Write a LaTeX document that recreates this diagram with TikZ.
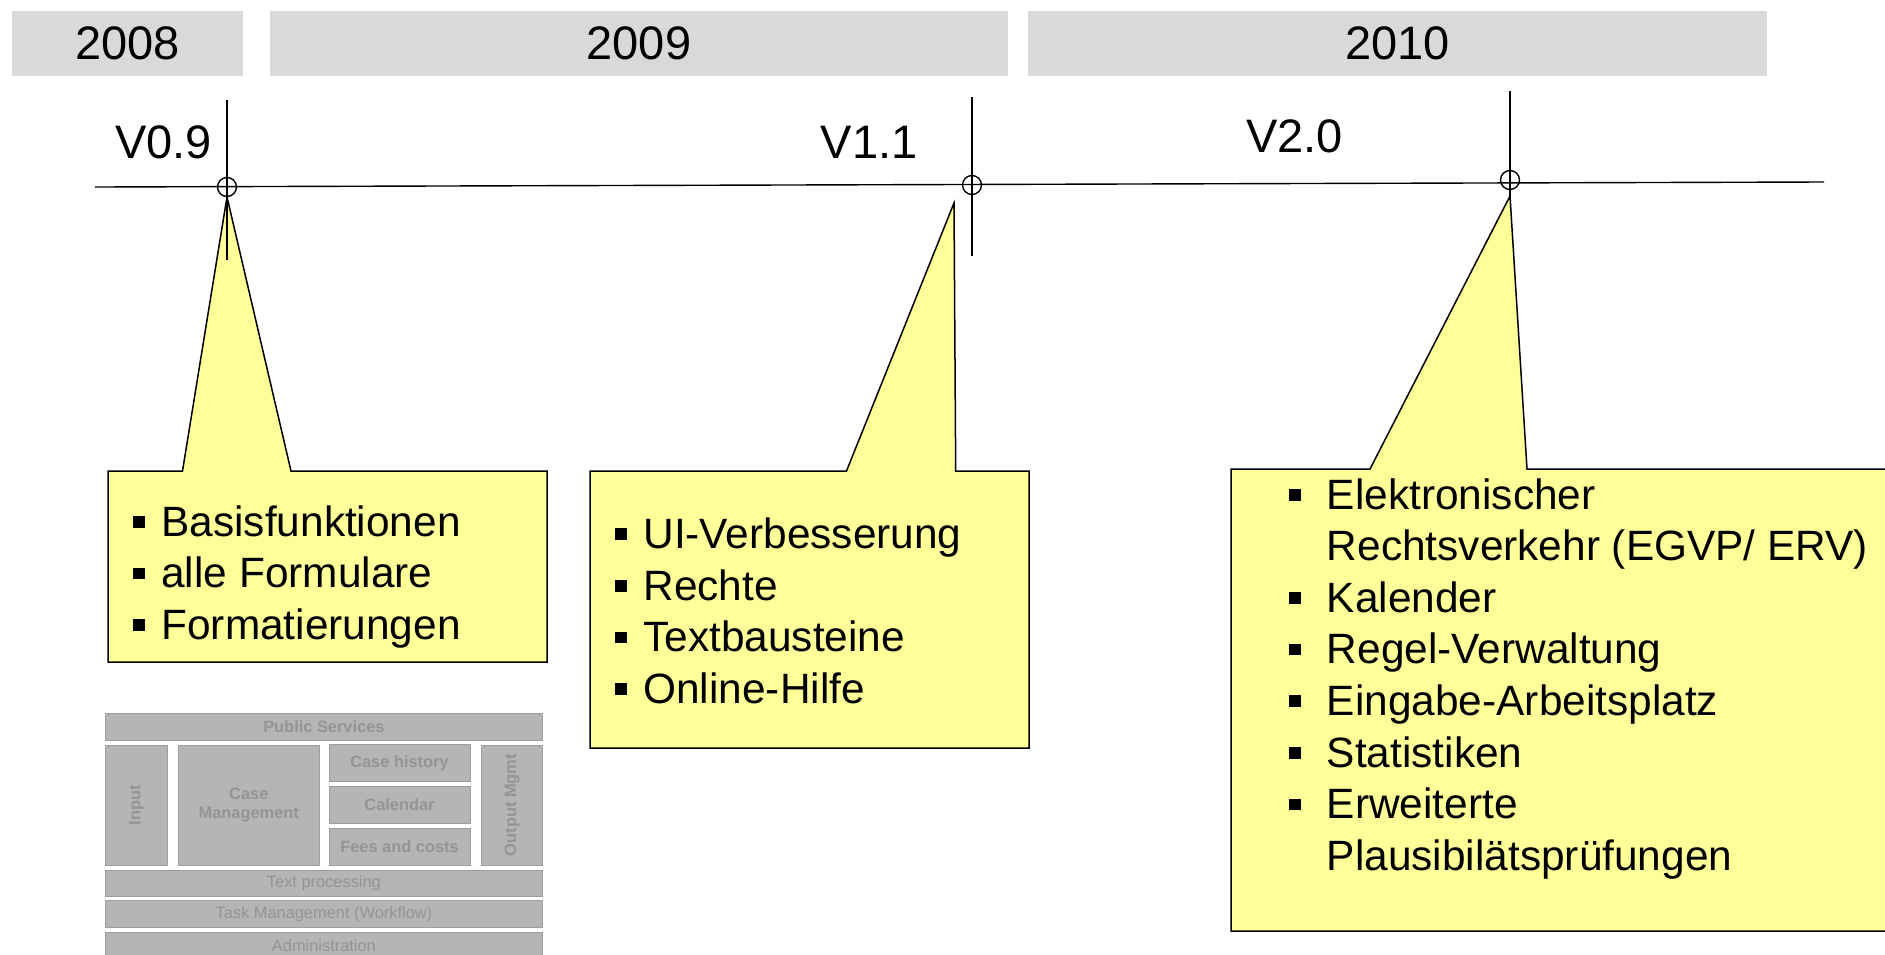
\documentclass[tikz,border=0pt]{standalone}
\usepackage{fontspec}
\setmainfont{Liberation Sans}
\definecolor{yearfill}{HTML}{D9D9D9}
\definecolor{noteyellow}{HTML}{FFFF99}
\definecolor{smfill}{gray}{0.71}
\definecolor{smline}{gray}{0.62}
\definecolor{smtext}{gray}{0.58}
\newcommand{\bsq}[1]{\llap{\rule[4.2pt]{5.8pt}{5.8pt}\hspace{#1}}}
\begin{document}
\begin{tikzpicture}[x=0.5pt,y=-0.5pt,
  yearbar/.style={fill=yearfill, inner sep=0, font=\fontsize{23.5}{28}\selectfont},
  vlabel/.style={anchor=base, inner sep=0, font=\fontsize{23.5}{28}\selectfont},
  axis/.style={line width=0.7pt},
  mark circle/.style={circle, draw, line width=0.7pt, minimum size=9.5pt, inner sep=0},
  note/.style={fill=noteyellow, draw=black, line width=0.75pt, line join=miter},
  item/.style={anchor=base west, inner sep=0, font=\fontsize{21.2}{25.8}\selectfont},
  sm/.style={fill=smfill, draw=smline, line width=0.5pt, inner sep=0, text=smtext, font=\fontsize{8.2}{9.7}\selectfont\bfseries, align=center},
  smr/.style={sm, font=\fontsize{8.2}{9.7}\selectfont},
]
\useasboundingbox (0,0) rectangle (1885,954);
\clip (0,0) rectangle (1885,954);

% year bars
\node[yearbar, minimum width=115.5pt, minimum height=32.5pt] (y2008) at (127.5,43) {2008};
\node[yearbar, minimum width=369pt, minimum height=32.5pt] (y2009) at (639,43) {2009};
\node[yearbar, minimum width=369.5pt, minimum height=32.5pt] (y2010) at (1397.5,43) {2010};

% callouts
\draw[note] (108,471) -- (182.5,471) -- (227,197) -- (291,471) -- (547,471) -- (547,662) -- (108,662) -- cycle;
\draw[note] (590,471) -- (846.5,471) -- (954,203) -- (955.7,471) -- (1029,471) -- (1029,748) -- (590,748) -- cycle;
\draw[note] (1231,469) -- (1370,469) -- (1510,196) -- (1527,469) -- (1900,469) -- (1900,931) -- (1231,931) -- cycle;

% timeline
\coordinate (tl0) at (95,187);
\coordinate (tl1) at (1824,182);
\draw[axis] (tl0) -- (tl1);
\coordinate (t09a) at (227,100); \coordinate (t09b) at (227,260);
\coordinate (t11a) at (972,97);  \coordinate (t11b) at (972,256);
\coordinate (t20a) at (1510,91); \coordinate (t20b) at (1510,196);
\draw[axis] (t09a) -- (t09b);
\draw[axis] (t11a) -- (t11b);
\draw[axis] (t20a) -- (t20b);
\node[mark circle] (m09) at (227,187) {};
\node[mark circle] (m11) at (972,185) {};
\node[mark circle] (m20) at (1510,180) {};

\node[vlabel] (v09) at (163.5,158) {V0.9};
\node[vlabel] (v11) at (869,158) {V1.1};
\node[vlabel] (v20) at (1294.5,152) {V2.0};

% callout texts
\node[item] (a1) at (161,536) {\bsq{8.2pt}Basisfunktionen};
\node[item] (a2) at (161,587.6) {\bsq{8.2pt}alle Formulare};
\node[item] (a3) at (161,639.3) {\bsq{8.2pt}Formatierungen};

\node[item] (b1) at (643,548) {\bsq{8.2pt}UI-Verbesserung};
\node[item] (b2) at (643,600) {\bsq{8.2pt}Rechte};
\node[item] (b3) at (643,651.7) {\bsq{8.2pt}Textbausteine};
\node[item] (b4) at (643,703) {\bsq{8.2pt}Online-Hilfe};

\node[item] (c1) at (1326.5,509) {\bsq{13pt}Elektronischer};
\node[item] (c2) at (1326.5,560.6) {Rechtsverkehr (EGVP/ ERV)};
\node[item] (c3) at (1326.5,612.2) {\bsq{13pt}Kalender};
\node[item] (c4) at (1326.5,663.8) {\bsq{13pt}Regel-Verwaltung};
\node[item] (c5) at (1326.5,715.4) {\bsq{13pt}Eingabe-Arbeitsplatz};
\node[item] (c6) at (1326.5,767) {\bsq{13pt}Statistiken};
\node[item] (c7) at (1326.5,818.6) {\bsq{13pt}Erweiterte};
\node[item] (c8) at (1326.5,870.2) {Plausibilätsprüfungen};

% small architecture diagram
\node[sm, minimum width=218.85pt, minimum height=13.35pt] (ps) at (323.9,726.7) {Public Services};
\node[sm, minimum width=30.8pt, minimum height=60pt] (inp) at (136.5,805) {\rotatebox{90}{Input}};
\node[sm, minimum width=70.5pt, minimum height=60pt] (cm) at (248.8,805) {Case\\Management};
\node[sm, minimum width=70.5pt, minimum height=18.35pt] (ch) at (399.5,763.3) {Case history};
\node[sm, minimum width=70.5pt, minimum height=18.35pt] (cal) at (399.5,805) {Calendar};
\node[sm, minimum width=70.5pt, minimum height=18.35pt] (fc) at (399.5,846.7) {Fees and costs};
\node[sm, minimum width=30.5pt, minimum height=60pt] (om) at (512.2,805) {\rotatebox{90}{Output Mgmt}};
\node[smr, minimum width=218.85pt, minimum height=13pt] (tp) at (323.9,883) {Text processing};
\node[smr, minimum width=218.85pt, minimum height=13.35pt] (tm) at (323.9,914.3) {Task Management (Workflow)};
\node[smr, minimum width=218.85pt, minimum height=13.35pt] (adm) at (323.9,945.7) {Administration};
\end{tikzpicture}
\end{document}
